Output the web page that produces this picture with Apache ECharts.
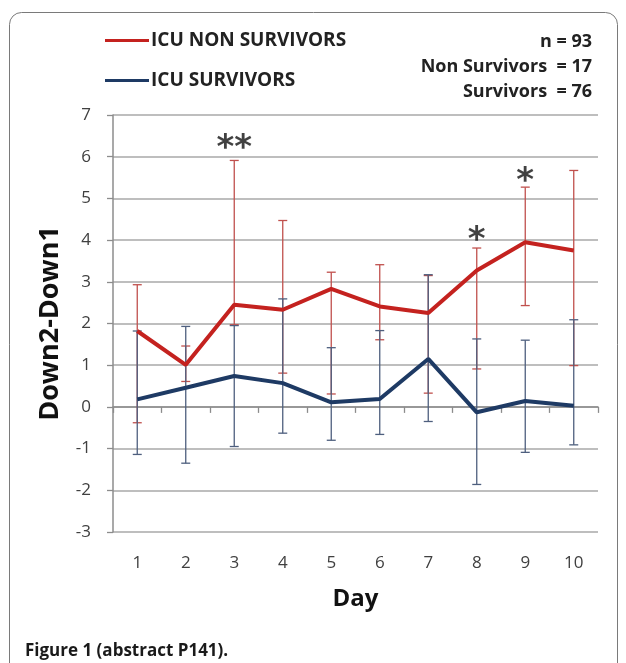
<!DOCTYPE html>
<html><head><meta charset="utf-8">
<script src="https://cdn.jsdelivr.net/npm/echarts@6/dist/echarts.min.js"></script>
<style>html,body{margin:0;padding:0;background:#fff}#c{width:626px;height:663px}</style>
</head><body><div id="c"></div>
<script>
const days = ['1','2','3','4','5','6','7','8','9','10'];
const nonSurvMean  = [1.82, 1.01, 2.45, 2.33, 2.83, 2.41, 2.25, 3.27, 3.95, 3.75];
const nonSurvUpper = [2.93, 1.46, 5.91, 4.47, 3.23, 3.41, 3.15, 3.81, 5.27, 5.67];
const nonSurvLower = [-0.38, 0.61, 1.97, 0.81, 0.31, 1.61, 0.33, 0.91, 2.43, 0.99];
const survMean  = [0.18, 0.46, 0.74, 0.57, 0.11, 0.19, 1.15, -0.13, 0.14, 0.03];
const survUpper = [1.82, 1.93, 1.95, 2.59, 1.42, 1.83, 3.17, 1.63, 1.60, 2.09];
const survLower = [-1.14, -1.35, -0.95, -0.63, -0.80, -0.66, -0.35, -1.86, -1.09, -0.91];
const sigMarks = ['', '', '**', '', '', '', '', '*', '*', ''];
const sigLevel = [null, null, 6.4, null, null, null, null, 4.2, 5.6, null];
const yMin = -3, yMax = 7, yStep = 1;

const RED = '#C4221F', BLUE = '#1E3A64';
const RED_ERR = '#C0504D', BLUE_ERR = '#4E5F7E';
const FONT = '"Open Sans"';

function errRender(color) {
  return function (params, api) {
    const x = api.value(0);
    const top = api.coord([x, api.value(1)]);
    const bot = api.coord([x, api.value(2)]);
    const w = 4.5;
    const style = { stroke: color, lineWidth: 1.3 };
    return { type: 'group', children: [
      { type: 'line', shape: { x1: top[0], y1: top[1], x2: bot[0], y2: bot[1] }, style },
      { type: 'line', shape: { x1: top[0] - w, y1: top[1], x2: top[0] + w, y2: top[1] }, style },
      { type: 'line', shape: { x1: bot[0] - w, y1: bot[1], x2: bot[0] + w, y2: bot[1] }, style }
    ]};
  };
}

const chart = echarts.init(document.getElementById('c'));
chart.setOption({
  backgroundColor: '#fff',
  animation: false,
  textStyle: { fontFamily: FONT },
  grid: { left: 113, right: 28, top: 115, bottom: 131 },
  legend: [
    { data: ['ICU NON SURVIVORS'], left: 105, top: 31, padding: 0, icon: 'rect', itemWidth: 44, itemHeight: 3,
      textStyle: { fontFamily: FONT, fontWeight: 'bold', fontSize: 19, color: '#222', padding: [0, 0, 0, -3] } },
    { data: ['ICU SURVIVORS'], left: 105, top: 71, padding: 0, icon: 'rect', itemWidth: 44, itemHeight: 3,
      textStyle: { fontFamily: FONT, fontWeight: 'bold', fontSize: 19, color: '#222', padding: [0, 0, 0, -3] } }
  ],
  xAxis: [
    { type: 'category', data: days, boundaryGap: true,
      axisLine: { show: false, onZero: false }, axisTick: { show: false },
      axisLabel: { fontSize: 17, color: '#404040', margin: 23, fontFamily: FONT },
      name: 'Day', nameLocation: 'middle', nameGap: 55,
      nameTextStyle: { fontSize: 24, fontWeight: 'bold', color: '#111', fontFamily: FONT },
      splitLine: { show: false } },
    { type: 'category', data: days, boundaryGap: true, position: 'bottom',
      axisLine: { show: true, onZero: true, lineStyle: { color: '#8c8c8c', width: 1.5 } },
      axisTick: { show: true, length: 6, lineStyle: { color: '#8c8c8c', width: 1.3 } },
      axisLabel: { show: false }, splitLine: { show: false } }
  ],
  yAxis: {
    type: 'value', min: yMin, max: yMax, interval: yStep,
    axisLine: { show: true, onZero: false, lineStyle: { color: '#8c8c8c', width: 1.5 } },
    axisTick: { show: true, length: 6, lineStyle: { color: '#8c8c8c', width: 1.3 } },
    axisLabel: { fontSize: 17, color: '#404040', margin: 22, fontFamily: FONT },
    splitLine: { show: true, lineStyle: { color: '#a8a8a8', width: 1.5 } },
    name: 'Down2-Down1', nameLocation: 'middle', nameGap: 49, nameRotate: 90,
    nameTextStyle: { fontSize: 27, fontWeight: 'bold', color: '#111', fontFamily: FONT }
  },
  graphic: [
    { type: 'rect', shape: { x: 9.5, y: 12.5, width: 608, height: 720, r: 12 },
      style: { fill: null, stroke: '#7a7a7a', lineWidth: 1 }, z: -1 },
    { type: 'text', x: 592, y: 42, style: { text: 'n = 93', textAlign: 'right', textVerticalAlign: 'middle',
      font: 'bold 18px "Open Sans"', fill: '#222' } },
    { type: 'text', x: 592, y: 67, style: { text: 'Non Survivors  = 17', textAlign: 'right', textVerticalAlign: 'middle',
      font: 'bold 18px "Open Sans"', fill: '#222' } },
    { type: 'text', x: 592, y: 92, style: { text: 'Survivors  = 76', textAlign: 'right', textVerticalAlign: 'middle',
      font: 'bold 18px "Open Sans"', fill: '#222' } },
    { type: 'text', x: 25, y: 651, style: { text: 'Figure 1 (abstract P141).', textAlign: 'left', textVerticalAlign: 'middle',
      font: 'bold 17px "Open Sans"', fill: '#1a1a1a' } }
  ],
  series: [
    { type: 'custom', name: 'nonSurvErr', xAxisIndex: 0, renderItem: errRender(RED_ERR),
      encode: { x: 0, y: [1, 2] }, z: 2,
      data: days.map((d, i) => [i, nonSurvUpper[i], nonSurvLower[i]]) },
    { type: 'custom', name: 'survErr', xAxisIndex: 0, renderItem: errRender(BLUE_ERR),
      encode: { x: 0, y: [1, 2] }, z: 3,
      data: days.map((d, i) => [i, survUpper[i], survLower[i]]) },
    { type: 'line', name: 'ICU SURVIVORS', xAxisIndex: 0, data: survMean, symbol: 'none',
      color: BLUE, lineStyle: { color: BLUE, width: 4 }, z: 4 },
    { type: 'line', name: 'ICU NON SURVIVORS', xAxisIndex: 0, data: nonSurvMean, symbol: 'none',
      color: RED, lineStyle: { color: RED, width: 4 }, z: 5 },
    { type: 'scatter', name: 'sig', xAxisIndex: 0, symbolSize: 0, z: 6, silent: true,
      data: days.map((d, i) => sigLevel[i] == null ? null : [i, sigLevel[i], sigMarks[i]]).filter(v => v),
      label: { show: true, position: 'inside', offset: [0, 9], formatter: p => p.value[2],
        fontSize: 34, fontWeight: 'bold', color: '#111', fontFamily: '"DejaVu Sans"' } }
  ]
});
</script>
</body></html>
